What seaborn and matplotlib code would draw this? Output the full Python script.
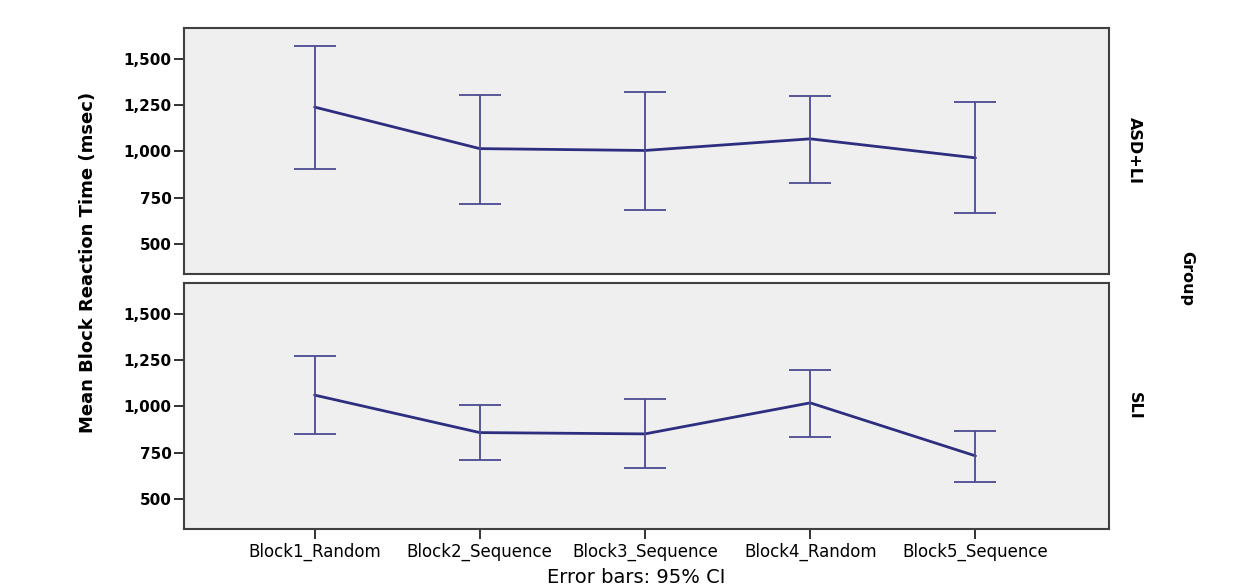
import numpy as np
import pandas as pd
import seaborn as sns
import matplotlib.pyplot as plt
from matplotlib.ticker import FuncFormatter

# values (msec)
blocks = ["Block1_Random", "Block2_Sequence", "Block3_Sequence", "Block4_Random", "Block5_Sequence"]
groups = ["ASD+LI", "SLI"]

asd_mean = [1240, 1015, 1005, 1068, 965]
asd_low = [905, 716, 684, 830, 668]
asd_high = [1570, 1308, 1322, 1302, 1265]

sli_mean = [1061, 858, 851, 1019, 732]
sli_low = [850, 708, 667, 835, 588]
sli_high = [1270, 1007, 1038, 1197, 868]

yticks = [500, 750, 1000, 1250, 1500]

df = pd.DataFrame({
    "group": np.repeat(groups, len(blocks)),
    "block": blocks * 2,
    "mean": asd_mean + sli_mean,
    "low": asd_low + sli_low,
    "high": asd_high + sli_high,
})

sns.set_theme(style="white")
plt.rcParams['font.family'] = ['DejaVu Sans']
plt.rcParams['text.color'] = 'black'
plt.rcParams['xtick.labelcolor'] = 'black'
plt.rcParams['ytick.labelcolor'] = 'black'

line_col = "#2e2e80"
bar_col = "#4b4b92"


def draw_block(data, **kws):
    ax = plt.gca()
    sns.lineplot(data=data, x="block", y="mean", color=line_col, linewidth=2,
                 sort=False, ax=ax)
    ax.errorbar(data["block"], data["mean"],
                yerr=[data["mean"] - data["low"], data["high"] - data["mean"]],
                fmt="none", ecolor=bar_col, elinewidth=1.3, capsize=14.8,
                capthick=1.3)


g = sns.FacetGrid(df, row="group", row_order=groups, sharex=True, sharey=True,
                  height=3, aspect=3.5, margin_titles=False)
g.map_dataframe(draw_block)
g.figure.set_size_inches(12.52, 5.88)
g.figure.subplots_adjust(left=0.147, right=0.886, top=0.953, bottom=0.100, hspace=0.034)

fmt = FuncFormatter(lambda v, p: f"{int(v):,}")
for i, (ax, grp) in enumerate(zip(g.axes.flat, groups)):
    ax.set_facecolor("#efefef")
    ax.set_title("")
    ax.set_xlim(-0.79, 4.81)
    ax.set_ylim(335, 1670)
    ax.set_yticks(yticks)
    ax.yaxis.set_major_formatter(fmt)
    ax.set_xlabel("")
    ax.set_ylabel("")
    for s in ax.spines.values():
        s.set_visible(True)
        s.set_color("#404040")
        s.set_linewidth(1.5)
    ax.tick_params(axis="y", left=True, direction="out", length=7, width=1.3,
                   color="#222222", labelsize=11, pad=2)
    for lab in ax.get_yticklabels():
        lab.set_fontweight("bold")
    if i == 0:
        ax.tick_params(axis="x", bottom=False, labelbottom=False)
    else:
        ax.tick_params(axis="x", bottom=True, direction="out", length=7, width=1.3,
                       color="#222222", labelsize=12, pad=3)
    ax.text(1.027, 0.5, grp, transform=ax.transAxes, rotation=270,
            ha="center", va="center", fontsize=11.5, fontweight="bold")

fig = g.figure
fig.text(0.070, 0.553, "Mean Block Reaction Time (msec)", rotation=90,
         ha="center", va="center", fontsize=13, fontweight="bold")
fig.text(0.948, 0.527, "Group", rotation=270, ha="center", va="center",
         fontsize=11.5, fontweight="bold")
fig.text(0.508, 0.018, "Error bars: 95% CI", ha="center", va="center", fontsize=14)

fig.savefig("out.png", dpi=100, facecolor="white")
